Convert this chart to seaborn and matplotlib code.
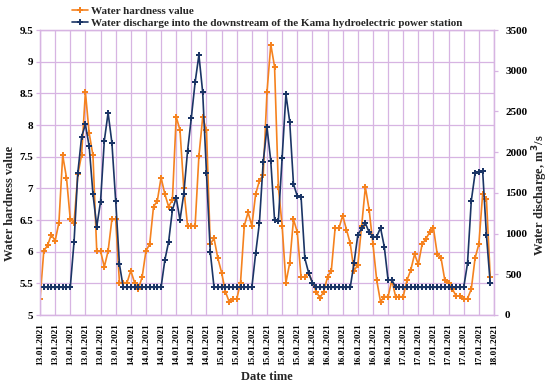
import numpy as np
import pandas as pd
import matplotlib
matplotlib.use("Agg")
import matplotlib.pyplot as plt
import seaborn as sns
from matplotlib.lines import Line2D

sns.set_style("white")
plt.rcParams['font.family'] = ['Liberation Serif', 'DejaVu Serif']
plt.rcParams['font.weight'] = 'bold'

# ---- data (hourly, 13.01.2021 00:00 .. 17.01.2021 23:00) ----
hardness = [
    5.25, 6.01, 6.10, 6.27, 6.17, 6.46, 7.52, 7.17, 6.51, 6.46,
    7.22, 7.53, 8.52, 7.87, 7.52, 6.01, 6.01, 5.76, 6.01, 6.51,
    6.51, 5.51, 5.51, 5.51, 5.70, 5.51, 5.41, 5.60, 6.01, 6.12,
    6.71, 6.80, 7.17, 6.91, 6.71, 6.82, 8.13, 7.92, 7.00, 6.41,
    6.41, 6.41, 7.51, 8.12, 7.92, 6.12, 6.21, 5.90, 5.67, 5.37,
    5.21, 5.25, 5.25, 5.51, 6.41, 6.62, 6.41, 6.91, 7.12, 7.21,
    8.52, 9.27, 8.92, 7.02, 6.41, 5.51, 5.82, 6.51, 6.31, 5.60,
    5.60, 5.67, 5.51, 5.37, 5.27, 5.37, 5.60, 5.70, 6.37, 6.37,
    6.57, 6.35, 6.13, 5.70, 5.79, 6.40, 7.02, 6.66, 6.12, 5.55,
    5.21, 5.29, 5.29, 5.55, 5.29, 5.29, 5.29, 5.55, 5.71, 5.96,
    5.80, 6.12, 6.20, 6.31, 6.37, 5.96, 5.90, 5.55, 5.51, 5.41,
    5.30, 5.30, 5.25, 5.26, 5.41, 5.90, 6.12, 6.91, 6.83, 5.60,
]

discharge = [
    np.nan, 340, 340, 340, 340, 340, 340, 340, 340, 900,
    1748, 2190, 2340, 2070, 1486, 1084, 1391, 2140, 2484, 2116,
    1404, 622, 340, 340, 340, 340, 340, 340, 340, 340,
    340, 340, 340, 675, 900, 1290, 1440, 1167, 1486, 2014,
    2423, 2857, 3193, 2735, 1748, 777, 340, 340, 340, 340,
    340, 340, 340, 340, 340, 340, 340, 757, 1133, 1883,
    2305, 1891, 1166, 1158, 1932, 2710, 2374, 1609, 1461, 1453,
    696, 519, 397, 340, 340, 340, 340, 340, 340, 340,
    340, 340, 340, 635, 982, 1065, 1126, 1016, 962, 962,
    1072, 839, 430, 430, 340, 340, 340, 340, 340, 340,
    340, 340, 340, 340, 340, 340, 340, 340, 340, 340,
    340, 340, 340, 635, 1404, 1740, 1760, 1768, 982, 389,
]

tick_labels = (["13.01.2021"] * 6 + ["14.01.2021"] * 6 + ["15.01.2021"] * 6 +
               ["16.01.2021"] * 6 + ["17.01.2021"] * 6 + ["18.01.2021"])

label_hard = "Water hardness value"
label_dis = "Water discharge into the downstream of the Kama hydroelectric power station"

df = pd.DataFrame({"t": np.arange(len(hardness)), "hardness": hardness,
                   "discharge": discharge})

orange = "#F5821F"
navy = "#1B3566"
grid_c = "#D7B4E2"

fig = plt.figure(figsize=(5.5, 3.84), dpi=100)
ax = fig.add_axes([40 / 550, 1 - 315 / 384, 454 / 550, 285 / 384])
ax2 = ax.twinx()

sns.lineplot(data=df, x="t", y="hardness", ax=ax, color=orange, lw=1.2,
             marker="P", markersize=4.3, markeredgewidth=0, legend=False)
sns.lineplot(data=df.dropna(), x="t", y="discharge", ax=ax2, color=navy, lw=1.2,
             marker="P", markersize=4.3, markeredgewidth=0, legend=False)

ax.set_xlim(0, 120)
ax.set_ylim(5, 9.5)
ax.set_yticks(np.arange(5, 9.51, 0.5))
ax.set_yticklabels([f"{v:g}" for v in np.arange(5, 9.51, 0.5)])
ax2.set_ylim(0, 3500)
ax2.set_yticks(np.arange(0, 3501, 500))

ax.set_xticks(np.arange(0, 121, 4))
ax.set_xticklabels(tick_labels, rotation=90, fontsize=6.7, fontweight="bold")

ax.grid(True, color=grid_c, lw=0.9)
ax.set_axisbelow(True)
for a in (ax, ax2):
    for s in a.spines.values():
        s.set_color(grid_c)
        s.set_linewidth(0.9)
    a.tick_params(axis="both", colors=grid_c, length=3, width=0.9, labelcolor="black")
ax.tick_params(axis="y", labelsize=8, pad=2)
ax.tick_params(axis="x", pad=3)
ax2.tick_params(axis="y", labelsize=8, pad=5)
for lab in ax.get_yticklabels() + ax2.get_yticklabels():
    lab.set_fontweight("bold")

ax.set_xlabel("Date time", fontsize=9, fontweight="bold", labelpad=4)
ax.set_ylabel("Water hardness value", fontsize=9, fontweight="bold")
ax.yaxis.set_label_coords(-0.053, 0.393)
ax2.set_ylabel("Water discharge, m$^{\\mathbf{3}}$/s", fontsize=9, fontweight="bold")
ax2.yaxis.set_label_coords(1.081, 0.42)

handles = [Line2D([], [], color=orange, lw=1.2, marker="P", markersize=4.3, markeredgewidth=0),
           Line2D([], [], color=navy, lw=1.2, marker="P", markersize=4.3, markeredgewidth=0)]
fig.legend(handles, [label_hard, label_dis], loc="upper left",
           bbox_to_anchor=(70 / 550, 0.99), frameon=False,
           prop={"size": 8, "weight": "bold"}, handlelength=1.4,
           handletextpad=0.25, labelspacing=0.2, borderpad=0.2, borderaxespad=0)

fig.savefig("out.png", dpi=100)
